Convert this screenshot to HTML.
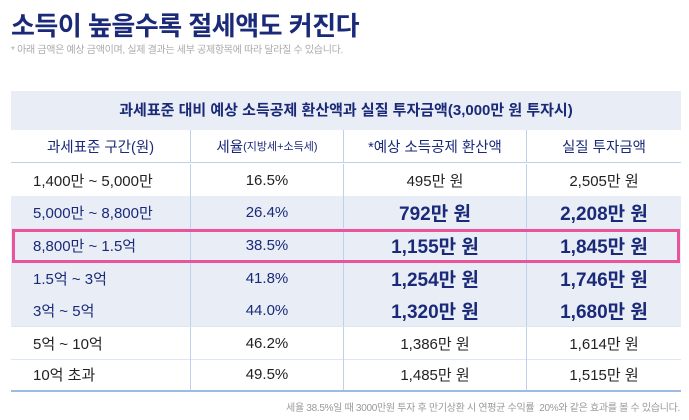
<!DOCTYPE html><html><head><meta charset="utf-8"><style>
*{margin:0;padding:0;box-sizing:border-box}
body{width:689px;height:420px;background:#fff;font-family:"Liberation Sans","Noto Sans CJK KR",sans-serif;position:relative;overflow:hidden;color:#222}
.t{position:absolute;left:11px;top:6px;font-size:26px;font-weight:700;color:#1a2a78;letter-spacing:-0.5px}
.s{position:absolute;left:11px;top:41px;font-size:10px;color:#aaa;letter-spacing:-0.3px}
.band{position:absolute;left:11px;top:91px;width:670px;height:39px;background:#e8edf6;text-align:center;line-height:39px;font-size:15px;font-weight:700;color:#1a2a78}
.row{position:absolute;left:11px;width:670px;height:33px;border-bottom:1px solid #dde6f3;display:flex;align-items:center}
.row div{height:100%;display:flex;align-items:center;justify-content:center;border-right:1px solid #bfd0ea}
.row div:last-child{border-right:none}
.c1{width:180px;justify-content:flex-start!important;padding-left:22px}
.c2{width:153px}.c3{width:183px}.c4{width:154px}
.h{color:#1a2a78;font-size:14.5px;border-bottom:1px solid #bfd0ea}
.d{font-size:15px;color:#222}
.b{background:#e8edf6;color:#1a2a78}
.b .big{font-size:19px;font-weight:700}
.hl{position:absolute;left:12px;top:229px;width:668px;height:34px;border:3px solid #e8559a}
.f{position:absolute;right:9px;top:399px;font-size:10px;color:#999;letter-spacing:-0.3px}
</style></head><body>
<div class="t">소득이 높을수록 절세액도 커진다</div>
<div class="s">* 아래 금액은 예상 금액이며, 실제 결과는 세부 공제항목에 따라 달라질 수 있습니다.</div>
<div class="band">과세표준 대비 예상 소득공제 환산액과 실질 투자금액(3,000만 원 투자시)</div>
<div class="row h" style="top:130px"><div class="c1" style="justify-content:center!important;padding-left:0">과세표준 구간(원)</div><div class="c2">세율<span style="font-size:11px">(지방세+소득세)</span></div><div class="c3">*예상 소득공제 환산액</div><div class="c4">실질 투자금액</div></div>
<div class="row d" style="top:164px"><div class="c1">1,400만 ~ 5,000만</div><div class="c2">16.5%</div><div class="c3">495만 원</div><div class="c4">2,505만 원</div></div>
<div class="row d b" style="top:196px"><div class="c1">5,000만 ~ 8,800만</div><div class="c2">26.4%</div><div class="c3 big">792만 원</div><div class="c4 big">2,208만 원</div></div>
<div class="row d b" style="top:229px"><div class="c1">8,800만 ~ 1.5억</div><div class="c2">38.5%</div><div class="c3 big">1,155만 원</div><div class="c4 big">1,845만 원</div></div>
<div class="row d b" style="top:262px"><div class="c1">1.5억 ~ 3억</div><div class="c2">41.8%</div><div class="c3 big">1,254만 원</div><div class="c4 big">1,746만 원</div></div>
<div class="row d b" style="top:294px"><div class="c1">3억 ~ 5억</div><div class="c2">44.0%</div><div class="c3 big">1,320만 원</div><div class="c4 big">1,680만 원</div></div>
<div class="row d" style="top:327px"><div class="c1">5억 ~ 10억</div><div class="c2">46.2%</div><div class="c3">1,386만 원</div><div class="c4">1,614만 원</div></div>
<div class="row d" style="top:359px;border-bottom:2px solid #9dbbe3"><div class="c1">10억 초과</div><div class="c2">49.5%</div><div class="c3">1,485만 원</div><div class="c4">1,515만 원</div></div>
<div class="hl"></div>
<div class="f">세율 38.5%일 때 3000만원 투자 후 만기상환 시 연평균 수익률 &nbsp;20%와 같은 효과를 볼 수 있습니다.</div>
</body></html>
